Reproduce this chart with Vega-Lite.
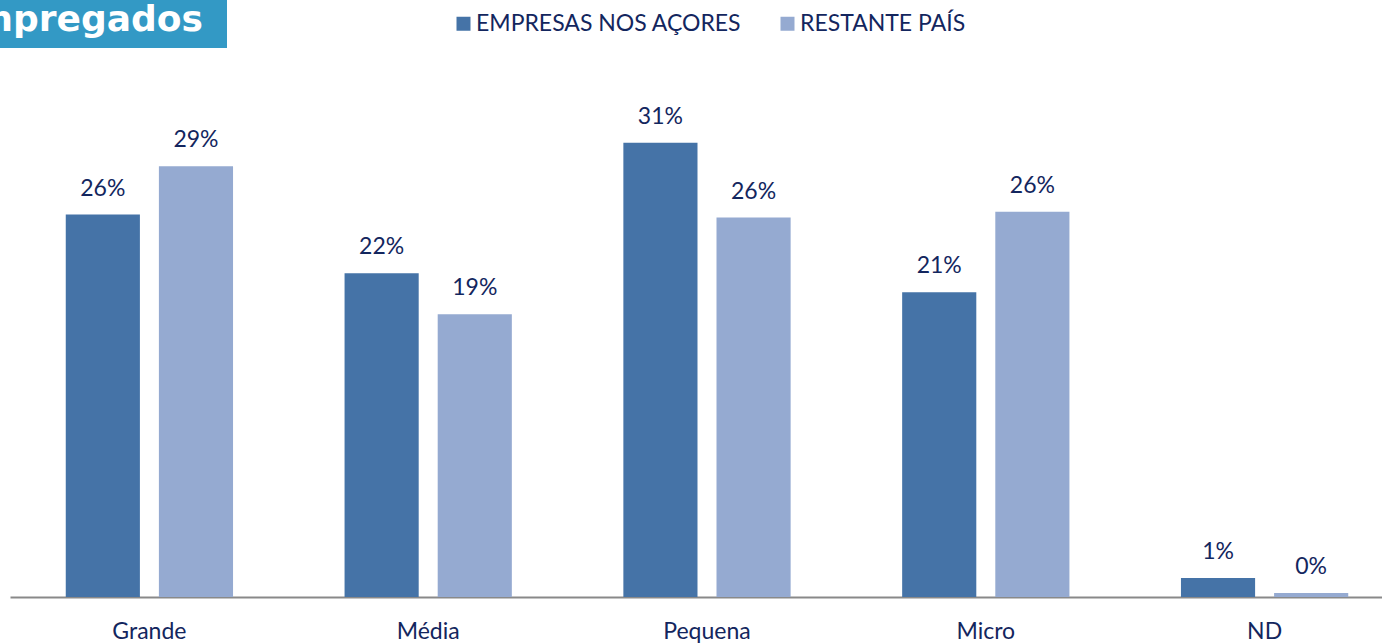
{
  "$schema": "https://vega.github.io/schema/vega-lite/v6.json",
  "padding": 0,
  "background": "white",
  "spacing": 0,
  "config": {"view": {"stroke": null}, "font": "Lato"},
  "vconcat": [
    {
      "width": 227,
      "height": 48,
      "view": {"fill": "#3399C5", "stroke": null},
      "data": {"values": [{"titulo": "Empregados"}]},
      "mark": {"type": "text", "clip": true, "align": "right", "baseline": "alphabetic", "dx": 89.5, "dy": 7, "font": "DejaVu Sans", "fontWeight": "bold", "fontSize": 36, "color": "white"},
      "encoding": {"text": {"field": "titulo"}}
    },
    {
      "width": 1404,
      "height": 549,
      "data": {
        "values": [
          {"dimensao": "Grande", "grupo": "EMPRESAS NOS AÇORES", "valor": 0.261},
          {"dimensao": "Grande", "grupo": "RESTANTE PAÍS", "valor": 0.294},
          {"dimensao": "Média", "grupo": "EMPRESAS NOS AÇORES", "valor": 0.221},
          {"dimensao": "Média", "grupo": "RESTANTE PAÍS", "valor": 0.193},
          {"dimensao": "Pequena", "grupo": "EMPRESAS NOS AÇORES", "valor": 0.31},
          {"dimensao": "Pequena", "grupo": "RESTANTE PAÍS", "valor": 0.259},
          {"dimensao": "Micro", "grupo": "EMPRESAS NOS AÇORES", "valor": 0.208},
          {"dimensao": "Micro", "grupo": "RESTANTE PAÍS", "valor": 0.263},
          {"dimensao": "ND", "grupo": "EMPRESAS NOS AÇORES", "valor": 0.013},
          {"dimensao": "ND", "grupo": "RESTANTE PAÍS", "valor": 0.0027}
        ]
      },
      "encoding": {
        "x": {
          "field": "dimensao",
          "type": "nominal",
          "sort": ["Grande", "Média", "Pequena", "Micro", "ND"],
          "scale": {"range": [10, 1404], "paddingInner": 0.4, "paddingOuter": 0.2},
          "axis": {"title": null, "ticks": false, "domainColor": "#898989", "domainWidth": 2, "labelAngle": 0, "labelFontSize": 23, "labelColor": "#13265E", "labelPadding": 23}
        },
        "xOffset": {
          "field": "grupo",
          "type": "nominal",
          "sort": ["EMPRESAS NOS AÇORES", "RESTANTE PAÍS"],
          "scale": {"paddingInner": 0.204, "paddingOuter": 0}
        },
        "y": {"field": "valor", "type": "quantitative", "scale": {"domain": [0, 0.3747]}, "axis": null}
      },
      "layer": [
        {
          "mark": {"type": "bar"},
          "encoding": {
            "color": {
              "field": "grupo",
              "type": "nominal",
              "sort": ["EMPRESAS NOS AÇORES", "RESTANTE PAÍS"],
              "scale": {"range": ["#4573A7", "#95AAD1"]},
              "legend": {"orient": "none", "legendX": 452, "legendY": 12, "direction": "horizontal", "title": null, "symbolType": "square", "symbolSize": 196, "symbolStrokeWidth": 0, "labelFontSize": 23, "labelLimit": 0, "labelColor": "#13265E", "columnPadding": 34, "labelOffset": 1, "padding": 0}
            }
          }
        },
        {
          "mark": {"type": "text", "dy": -19, "baseline": "alphabetic", "fontSize": 23, "color": "#13265E"},
          "encoding": {"text": {"field": "valor", "type": "quantitative", "format": ".0%"}}
        }
      ]
    }
  ]
}
